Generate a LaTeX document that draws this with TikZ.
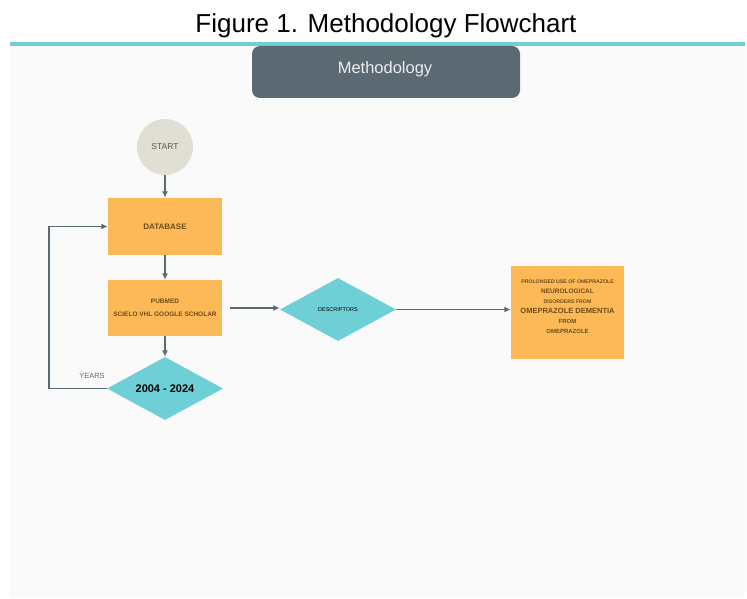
\documentclass[tikz,border=0pt]{standalone}
\usepackage{fontspec}
\setmainfont{Liberation Sans}
\usetikzlibrary{shapes.geometric,arrows.meta}
\definecolor{teal}{HTML}{6FCFD6}
\definecolor{slate}{HTML}{5B6A72}
\definecolor{orangebox}{HTML}{FDB958}
\definecolor{beige}{HTML}{E1DFD4}
\definecolor{panel}{HTML}{FAFAFA}
\definecolor{boxtext}{HTML}{6E4C16}
\tikzset{
  x=1pt,y=-1pt,
  obox/.style={fill=orangebox,draw=none,minimum width=114pt,inner sep=0pt,align=center,text=boxtext},
  dia/.style={diamond,fill=teal,draw=none,minimum width=116pt,minimum height=63pt,aspect=1.84,inner sep=0pt,align=center},
  conn/.style={draw=slate,line width=1.4pt,-{Latex[length=6.5pt,width=6pt]}},
}
\begin{document}
\begin{tikzpicture}
\useasboundingbox (0,0) rectangle (747,599);
\fill[white] (0,0) rectangle (747,599);
\fill[panel] (10,46) rectangle (745,597);
\draw[teal,line width=3.5pt] (10,44) -- (745,44);
\node[font=\fontsize{26}{30}\selectfont] (title) at (386,26) {Figure 1. Methodology Flowchart};
\fill[slate,rounded corners=8pt] (252,46) -- (252,98) -- (520,98) -- (520,46) -- cycle;
\node[text=white!88!slate,font=\fontsize{16.5}{19}\selectfont] (meth) at (385,69) {Methodology};
\node[circle,fill=beige,minimum size=56pt,inner sep=0pt,text=black!65,font=\fontsize{8.5}{10}\selectfont] (start) at (165,147) {START};
\node[obox,minimum height=57pt,font=\fontsize{8}{9}\selectfont\bfseries] (db) at (165,226.5) {DATABASE};
\node[obox,minimum height=56pt,font=\fontsize{6.5}{9}\selectfont\bfseries] (pub) at (165,308) {PUBMED\\[4pt] SCIELO VHL GOOGLE SCHOLAR};
\node[dia,font=\fontsize{11}{12}\selectfont\bfseries] (years) at (165,388.5) {2004 - 2024};
\node[dia,font=\fontsize{5.5}{6}\selectfont] (desc) at (338,309.5) {DESCRIPTORS};
\node[obox,minimum width=113pt,minimum height=93pt,font=\fontsize{5.2}{10}\selectfont\bfseries] (res) at (567.5,312.5) {PROLONGED USE OF OMEPRAZOLE\\ {\fontsize{6.5}{10}\selectfont NEUROLOGICAL}\\ DISORDERS FROM\\ {\fontsize{7.5}{10}\selectfont OMEPRAZOLE DEMENTIA}\\ {\fontsize{6}{10}\selectfont FROM}\\ {\fontsize{6}{10}\selectfont OMEPRAZOLE}\\[2pt]~};
\coordinate (lb) at (49,388.5);
\coordinate (lt) at (49,226.5);
\draw[conn] (start) -- (db);
\draw[conn] (db) -- (pub);
\draw[conn] (pub) -- (years);
\draw[conn] (years.west) -- (lb) -- (lt) -- (db.west);
\node[text=black!60,anchor=south,font=\fontsize{7.5}{8}\selectfont] (ylab) at (92,382) {YEARS};
\coordinate (ps) at ([xshift=8pt]pub.east);
\draw[conn] (ps) -- (ps -| desc.west);
\draw[conn] (desc.east) -- (desc.east -| res.west);
\end{tikzpicture}
\end{document}
